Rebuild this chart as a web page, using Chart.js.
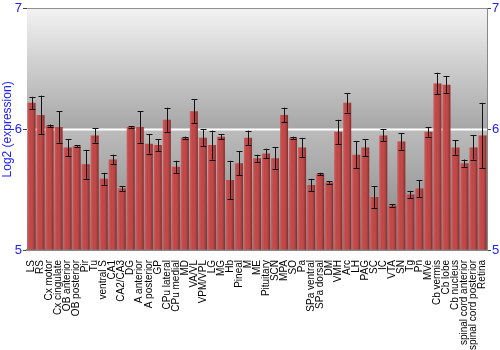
<!DOCTYPE html>
<html>
<head>
<meta charset="utf-8">
<script src="https://cdn.jsdelivr.net/npm/chart.js@4"></script>
<style>
  html, body { margin: 0; padding: 0; background: #fff; }
  #wrap { width: 500px; height: 350px; }
</style>
</head>
<body>
<div id="wrap"><canvas id="chart"></canvas></div>
<script>
const regions = ["LS", "RS", "Cx motor", "Cx cingulate", "OB anterior", "OB posterior", "Pir", "Tu",
  "ventral S", "CA1", "CA2/CA3", "DG", "A anterior", "A posterior", "GP", "CPu lateral", "CPu medial",
  "MD", "VA/VL", "VPM/VPL", "LG", "MG", "Hb", "Pineal", "M", "ME", "Pituitary", "SCN", "MPA", "SO",
  "Pa", "SPa ventral", "SPa dorsal", "DM", "VMH", "Arc", "LH", "PAG", "SC", "IC", "VTA", "SN", "Tg",
  "Pn", "MVe", "Cb vermis", "Cb lobe", "Cb nucleus", "spinal cord anterior", "spinal cord posterior", "Retina"];

const means = [6.22, 6.12, 6.03, 6.02, 5.85, 5.86, 5.71, 5.95,
  5.59, 5.75, 5.51, 6.02, 6.02, 5.88, 5.87, 6.08, 5.69,
  5.93, 6.15, 5.93, 5.87, 5.94, 5.58, 5.72, 5.93, 5.76, 5.80, 5.76, 6.12, 5.93,
  5.85, 5.54, 5.63, 5.56, 5.98, 6.22, 5.79, 5.85, 5.44, 5.95, 5.37, 5.90, 5.46,
  5.51, 5.98, 6.38, 6.37, 5.85, 5.72, 5.85, 5.95];

const errs = [0.05, 0.16, 0.01, 0.13, 0.07, 0.01, 0.12, 0.06,
  0.05, 0.04, 0.02, 0.005, 0.13, 0.08, 0.05, 0.10, 0.05,
  0.01, 0.10, 0.07, 0.12, 0.02, 0.16, 0.10, 0.06, 0.03, 0.04, 0.09, 0.06, 0.01,
  0.08, 0.05, 0.01, 0.01, 0.10, 0.08, 0.11, 0.07, 0.09, 0.05, 0.01, 0.07, 0.03,
  0.07, 0.04, 0.09, 0.07, 0.06, 0.03, 0.10, 0.27];

const yTicks = [5, 6, 7];

// gray gradient bands behind the bars, one per tick interval
const bandBackground = {
  id: "bandBackground",
  beforeDatasetsDraw(chart) {
    const { ctx, chartArea, scales } = chart;
    const y = scales.y;
    ctx.save();
    for (let i = 0; i < yTicks.length - 1; i++) {
      const top = y.getPixelForValue(yTicks[i + 1]);
      const bot = y.getPixelForValue(yTicks[i]);
      const g = ctx.createLinearGradient(0, top, 0, bot);
      if (i === 1) { g.addColorStop(0, "#f2f2f2"); g.addColorStop(1, "#a6a6a6"); }
      else { g.addColorStop(0, "#bcbcbc"); g.addColorStop(1, "#828282"); }
      ctx.fillStyle = g;
      ctx.fillRect(chartArea.left, top, chartArea.right - chartArea.left, bot - top);
    }
    // white line at 6
    ctx.strokeStyle = "#ffffff";
    ctx.lineWidth = 2;
    const p6 = y.getPixelForValue(6);
    ctx.beginPath();
    ctx.moveTo(chartArea.left, p6);
    ctx.lineTo(chartArea.right, p6);
    ctx.stroke();
    ctx.restore();
  }
};

// cylinder-ish shading on bars and error bars
const barExtras = {
  id: "barExtras",
  afterDatasetsDraw(chart) {
    const { ctx, scales } = chart;
    const meta = chart.getDatasetMeta(0);
    ctx.save();
    meta.data.forEach((bar, i) => {
      const left = bar.x - bar.width / 2;
      const g = ctx.createLinearGradient(left, 0, left + bar.width, 0);
      g.addColorStop(0, "rgba(255,255,255,0.18)");
      g.addColorStop(0.35, "rgba(255,255,255,0.05)");
      g.addColorStop(1, "rgba(0,0,0,0.32)");
      ctx.fillStyle = g;
      ctx.fillRect(left, bar.y, bar.width, bar.base - bar.y);
    });
    ctx.strokeStyle = "#111";
    ctx.lineWidth = 1;
    meta.data.forEach((bar, i) => {
      const hi = scales.y.getPixelForValue(means[i] + errs[i]);
      const lo = scales.y.getPixelForValue(means[i] - errs[i]);
      const x = Math.round(bar.x) + 0.5;
      ctx.beginPath();
      ctx.moveTo(x, hi); ctx.lineTo(x, lo);
      ctx.moveTo(x - 3, Math.round(hi) + 0.5); ctx.lineTo(x + 3, Math.round(hi) + 0.5);
      ctx.moveTo(x - 3, Math.round(lo) + 0.5); ctx.lineTo(x + 3, Math.round(lo) + 0.5);
      ctx.stroke();
    });
    ctx.restore();
  }
};

const blue = "#2020ff";

new Chart(document.getElementById("chart"), {
  type: "bar",
  data: {
    labels: regions,
    datasets: [{
      data: means,
      backgroundColor: "#c03a3a",
      borderWidth: 0,
      base: 5,
      categoryPercentage: 1,
      barPercentage: 0.88
    }]
  },
  options: {
    responsive: true,
    maintainAspectRatio: false,
    animation: false,
    devicePixelRatio: 1,
    layout: { padding: { top: 2, right: 0 } },
    plugins: { legend: { display: false }, tooltip: { enabled: false } },
    scales: {
      x: {
        grid: { display: false },
        border: { color: "#888", width: 2 },
        ticks: {
          color: "#000",
          font: { family: "Liberation Sans", size: 10 },
          minRotation: 90, maxRotation: 90,
          autoSkip: false, padding: 2
        },
        afterFit(s) { s.height = 100; }
      },
      y: {
        min: 5, max: 7,
        afterBuildTicks(s) { s.ticks = yTicks.map(v => ({ value: v })); },
        grid: {
          drawOnChartArea: true,
          tickLength: 4,
          color: ctx => (ctx.tick && ctx.tick.value === 7 ? "#777" : "rgba(0,0,0,0)"),
          tickColor: "#444"
        },
        border: { color: "#888" },
        ticks: { color: blue, font: { family: "Liberation Sans", size: 13 }, padding: 1 },
        title: {
          display: true, text: "Log2 (expression)", color: blue,
          font: { family: "Liberation Sans", size: 12 }, padding: 0
        },
        afterFit(s) { s.width = 27; }
      },
      y2: {
        position: "right",
        min: 5, max: 7,
        afterBuildTicks(s) { s.ticks = yTicks.map(v => ({ value: v })); },
        grid: { drawOnChartArea: false, tickLength: 4, tickColor: "#444" },
        border: { color: "#888" },
        ticks: { color: blue, font: { family: "Liberation Sans", size: 13 }, padding: 1 },
        afterFit(s) { s.width = 13; }
      }
    }
  },
  plugins: [bandBackground, barExtras]
});
</script>
</body>
</html>
